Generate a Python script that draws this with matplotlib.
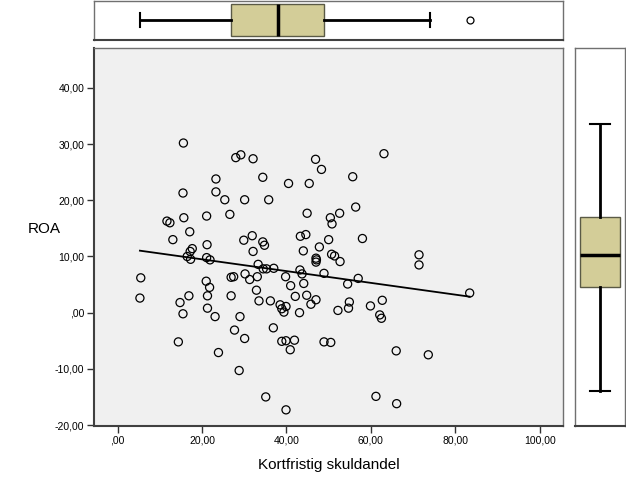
import numpy as np
import matplotlib
matplotlib.use('Agg')
import matplotlib.pyplot as plt

plt.rcParams['font.family'] = ['Liberation Sans', 'DejaVu Sans']

# Kortfristig skuldandel (x) and ROA (y)
skuld = [15.6, 28.0, 29.2, 32.1, 23.3, 15.5, 23.3, 25.4, 30.1, 11.7,
         12.4, 15.7, 21.1, 26.6, 17.1, 13.1, 29.9, 31.9, 21.2, 32.1,
         17.7, 17.2, 16.5, 17.3, 21.1, 21.9, 5.5, 21.0, 26.9, 27.5,
         30.2, 31.3, 46.9, 48.3, 63.1, 34.4, 40.5, 45.4, 55.7, 35.8,
         44.9, 50.4, 52.6, 56.4, 50.8, 34.4, 34.8, 43.3, 44.6, 50.0,
         58.0, 44.0, 47.8, 47.0, 47.1, 47.0, 50.7, 51.4, 52.7, 33.3,
         34.5, 35.3, 37.0, 43.2, 43.7, 48.9, 33.1, 39.8, 57.0, 5.3,
         14.8, 16.9, 15.5, 21.8, 21.3, 21.3, 23.1, 26.9, 29.0, 27.7,
         30.1, 14.4, 23.9, 28.8, 32.9, 41.0, 44.1, 54.5, 33.5, 36.2,
         38.5, 39.9, 38.9, 39.4, 42.1, 44.8, 45.8, 47.0, 43.1, 52.2,
         54.9, 54.7, 59.9, 62.7, 62.1, 62.5, 36.9, 38.9, 39.9, 41.9,
         40.9, 48.9, 50.5, 66.0, 35.1, 39.9, 61.2, 66.1, 71.4, 71.4,
         83.4, 73.6]
roa = [30.2, 27.6, 28.1, 27.4, 23.8, 21.3, 21.5, 20.1, 20.1, 16.3,
       16.0, 16.9, 17.2, 17.5, 14.4, 13.0, 12.9, 13.7, 12.1, 10.9,
       11.4, 10.9, 10.0, 9.5, 9.8, 9.4, 6.2, 5.6, 6.3, 6.4,
       6.9, 5.9, 27.3, 25.5, 28.3, 24.1, 23.0, 23.0, 24.2, 20.1,
       17.7, 16.9, 17.7, 18.8, 15.8, 12.6, 12.0, 13.6, 13.9, 13.0,
       13.2, 11.0, 11.7, 9.7, 9.4, 9.0, 10.4, 10.1, 9.1, 8.6,
       7.8, 7.8, 7.9, 7.6, 6.9, 7.0, 6.4, 6.4, 6.1, 2.6,
       1.8, 3.0, -0.2, 4.5, 3.0, 0.8, -0.7, 3.0, -0.7, -3.1,
       -4.6, -5.2, -7.1, -10.3, 4.0, 4.8, 5.2, 5.1, 2.1, 2.1,
       1.4, 1.1, 0.7, 0.1, 2.9, 3.1, 1.5, 2.3, 0.0, 0.4,
       1.9, 0.8, 1.2, 2.2, -0.4, -1.0, -2.7, -5.1, -5.0, -4.9,
       -6.6, -5.2, -5.3, -6.8, -15.0, -17.3, -14.9, -16.2, 10.3, 8.5,
       3.5, -7.5]

# boxplot summaries as drawn in the margins
box_x = dict(whislo=5.4, q1=26.9, med=38.0, q3=48.8, whishi=74.0, fliers=[83.4])
box_y = dict(whislo=-13.9, q1=4.5, med=10.3, q3=17.0, whishi=33.5, fliers=[])

xticks = [0, 20, 40, 60, 80, 100]
yticks = [-20, -10, 0, 10, 20, 30, 40]


def spss_label(v):
    s = '%.2f' % v
    s = s.replace('.', ',')
    if s.startswith('0,'):
        s = s[1:]
    return s


box_fill = '#d3cd98'
box_edge = '#5a5a46'

fig = plt.figure(figsize=(6.26, 5.01), dpi=100)
ax = fig.add_axes([0.150, 0.150, 0.749, 0.754])
ax_top = fig.add_axes([0.150, 0.920, 0.749, 0.079])
ax_right = fig.add_axes([0.918, 0.150, 0.080, 0.754])

# main scatter
ax.set_facecolor('#f0f0f0')
ax.scatter(skuld, roa, s=34, facecolors='none', edgecolors='black', linewidths=0.9, zorder=3)

xs = np.array(skuld)
ys = np.array(roa)
k, m = np.polyfit(xs, ys, 1)
xl = np.array([xs.min(), xs.max()])
ax.plot(xl, k * xl + m, color='black', lw=1.3, zorder=4)

ax.set_xlim(-5.6, 105.45)
ax.set_ylim(-20.15, 47.1)
ax.set_xticks(xticks)
ax.set_xticklabels([spss_label(v) for v in xticks], fontsize=7.5)
ax.set_yticks(yticks)
ax.set_yticklabels([spss_label(v) for v in yticks], fontsize=7.5)
ax.tick_params(direction='out', length=5, width=1, color='#333333', pad=2)
for sp in ['top', 'right']:
    ax.spines[sp].set_color('#707070')
    ax.spines[sp].set_linewidth(1)
for sp in ['left', 'bottom']:
    ax.spines[sp].set_color('#404040')
    ax.spines[sp].set_linewidth(1.5)

ax.set_xlabel('Kortfristig skuldandel', fontsize=11, labelpad=9)
fig.text(0.070, 0.542, 'ROA', fontsize=11, ha='center', va='center')

# top boxplot (x)
ax_top.bxp([box_x], positions=[0.5], widths=0.8, capwidths=0.35, vert=False,
           patch_artist=True, showfliers=True,
           boxprops=dict(facecolor=box_fill, edgecolor=box_edge, lw=1),
           medianprops=dict(color='black', lw=2.5),
           whiskerprops=dict(color='black', lw=2),
           capprops=dict(color='black', lw=1.5),
           flierprops=dict(marker='o', markersize=5, markerfacecolor='none',
                           markeredgecolor='black', markeredgewidth=0.9))
ax_top.set_xlim(ax.get_xlim())
ax_top.set_ylim(0, 1)

# right boxplot (y)
ax_right.bxp([box_y], positions=[0.5], widths=0.8, capwidths=0.4, vert=True,
             patch_artist=True, showfliers=False,
             boxprops=dict(facecolor=box_fill, edgecolor=box_edge, lw=1),
             medianprops=dict(color='black', lw=2.5),
             whiskerprops=dict(color='black', lw=2),
             capprops=dict(color='black', lw=1.5))
ax_right.set_ylim(ax.get_ylim())
ax_right.set_xlim(0, 1)

for a in [ax_top, ax_right]:
    a.set_xticks([])
    a.set_yticks([])
    a.set_facecolor('white')
    for sp in a.spines.values():
        sp.set_color('#707070')
        sp.set_linewidth(1)
ax_top.spines['bottom'].set_color('#404040')
ax_top.spines['bottom'].set_linewidth(1.5)
ax_right.spines['bottom'].set_color('#404040')
ax_right.spines['bottom'].set_linewidth(1.5)

fig.savefig('out.png', dpi=100)
